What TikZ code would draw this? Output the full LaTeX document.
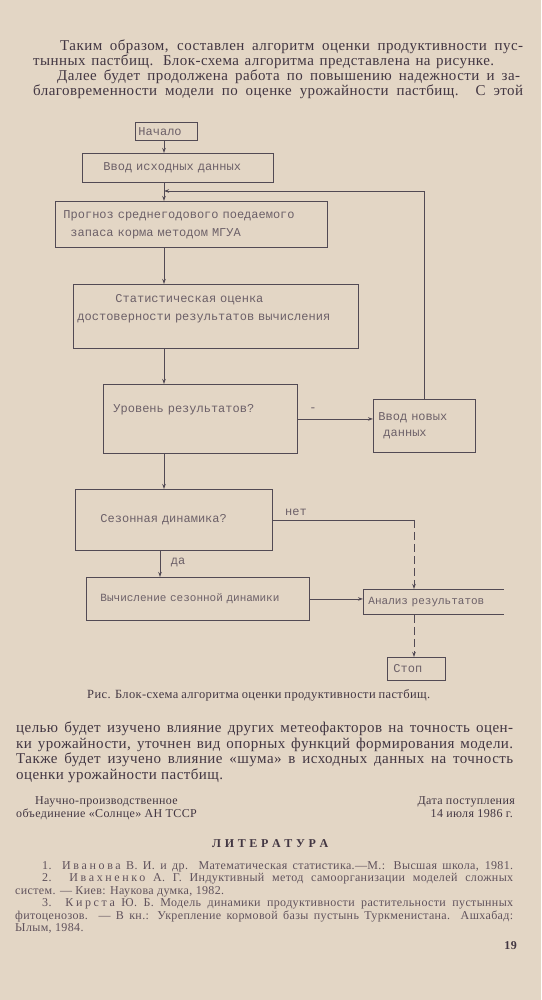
\documentclass[tikz,border=0pt]{standalone}
\usepackage{fontspec}
\setmainfont{Liberation Serif}[LetterSpace=3]
\newfontfamily\typewr{Liberation Mono}
\newfontfamily\sparse[LetterSpace=22]{Liberation Serif}
\usetikzlibrary{arrows.meta,positioning,calc}
\definecolor{paper}{RGB}{227,214,197}
\definecolor{ink}{RGB}{66,54,66}
\definecolor{refink}{RGB}{96,82,92}
\definecolor{typeink}{RGB}{108,96,104}
\definecolor{lineink}{RGB}{82,74,84}
\hfuzz=200pt
\tikzset{
  block/.style={draw=lineink, line width=0.9pt, rectangle, anchor=north west, align=left,
    text=typeink, font=\typewr\fontsize{12}{18}\selectfont},
  note/.style={text=typeink, font=\typewr\fontsize{12}{14}\selectfont, inner sep=0pt},
  flow/.style={draw=lineink, line width=0.9pt, -{Stealth[length=5pt,width=3.5pt]}},
  link/.style={draw=lineink, line width=0.9pt},
  dashlink/.style={flow, dash pattern=on 8pt off 4pt},
  txt/.style={inner sep=0pt, anchor=base west, text=ink, font=\fontsize{15}{16}\selectfont},
  smalltxt/.style={txt, font=\fontsize{12}{13}\selectfont},
  reftxt/.style={txt, text=refink, font=\fontsize{12}{12}\selectfont}
}

\begin{document}
\begin{tikzpicture}[x=1pt, y=-1pt]
\fill[paper] (0,0) rectangle (541,1000);
\useasboundingbox (0,0) rectangle (541,1000);

% text above the figure
\node[txt] (p1a) at (60,50.5) {\makebox[463pt][s]{Таким образом, составлен алгоритм оценки продуктивности пус-}};
\node[txt] (p1b) at (33,65.5) {\makebox[461pt][s]{тынных пастбищ. Блок-схема алгоритма представлена на рисунке.}};
\node[txt] (p1c) at (57,80.5) {\makebox[463pt][s]{Далее будет продолжена работа по повышению надежности и за-}};
\node[txt] (p1d) at (33,95.5) {\makebox[490pt][s]{благовременности модели по оценке урожайности пастбищ. С этой}};

% flowchart
\coordinate (spine) at (164,0);
\coordinate (merge) at (164,191);
\coordinate (drop) at (414,0);

\node[block, text width=56pt, inner xsep=3pt, minimum height=18pt] (start) at (135,122) {Начало};
\node[block, text width=149pt, inner xsep=21pt, minimum height=29pt] (input) at (82,153) {Ввод исходных данных};
\node[block, text width=256pt, inner xsep=8pt, minimum height=46pt] (forecast) at (55,201)
  {Прогноз среднегодового поедаемого\\\hspace*{7pt}запаса корма методом МГУА};
\node[block, text width=277pt, inner xsep=4pt, minimum height=64pt] (stat) at (73,284)
  {\hspace*{38pt}Статистическая оценка\\достоверности результатов вычисления\\\mbox{}};
\node[block, text width=174pt, inner xsep=10pt, minimum height=69pt] (level) at (103,384)
  {Уровень результатов?\\[2pt]\mbox{}};
\node[block, text width=92pt, inner xsep=5pt, minimum height=53pt] (newdata) at (373,399)
  {Ввод новых\\[-2pt]\hspace*{5pt}данных};
\node[block, text width=147pt, inner xsep=25pt, minimum height=61pt] (season) at (75,489) {Сезонная динамика?};
\node[block, text width=211pt, inner xsep=6pt, minimum height=43pt, font=\typewr\fontsize{11}{18}\selectfont] (calc) at (86,577)
  {\hspace*{8pt}Вычисление сезонной динамики};
\node[block, draw=none, text width=132pt, inner xsep=4pt, minimum height=25pt, font=\typewr\fontsize{11}{18}\selectfont] (analysis) at (363,589)
  {\hspace*{1pt}Анализ результатов};
\node[block, text width=46pt, inner xsep=6pt, minimum height=23pt] (stop) at (387,657) {Стоп};

\draw[link] (analysis.north east) -- (analysis.north west) -- (analysis.south west) -- (analysis.south east);

\node[note] (minus) at (313,410) {-};
\node[note] (no) at (296,512) {нет};
\node[note] (yes) at (178,562) {да};

\draw[flow] (start.south -| spine) -- (input.north -| spine);
\draw[flow] (input.south -| spine) -- (forecast.north -| spine);
\draw[flow] (newdata.north) |- (merge);
\draw[flow] (forecast.south -| spine) -- (stat.north -| spine);
\draw[flow] (stat.south -| spine) -- (level.north -| spine);
\draw[flow] (level.east) -- (level.east -| newdata.west);
\draw[flow] (level.south -| spine) -- (season.north -| spine);
\draw[flow] ([xshift=-4pt]season.south -| spine) -- ([xshift=-4pt]calc.north -| spine);
\draw[link] (season.east) -- (season.east -| drop);
\draw[dashlink] (season.east -| drop) -- (analysis.north -| drop);
\draw[flow] (calc.east) -- (calc.east -| analysis.west);
\draw[dashlink] (analysis.south -| drop) -- (stop.north -| drop);

\node[smalltxt, font=\fontsize{12.5}{13}\selectfont] (caption) at (87,698) {\makebox[343pt][s]{Рис. Блок-схема алгоритма оценки продуктивности пастбищ.}};

% text below the figure
\node[txt] (p2a) at (16,732.5) {\makebox[497pt][s]{целью будет изучено влияние других метеофакторов на точность оцен-}};
\node[txt] (p2b) at (16,748) {\makebox[497pt][s]{ки урожайности, уточнен вид опорных функций формирования модели.}};
\node[txt] (p2c) at (16,763.5) {\makebox[497pt][s]{Также будет изучено влияние «шума» в исходных данных на точность}};
\node[txt] (p2d) at (16,779) {оценки урожайности пастбищ.};

\node[smalltxt] (org1) at (35,804) {Научно-производственное};
\node[smalltxt] (org2) at (16,817) {объединение «Солнце» АН ТССР};
\node[smalltxt, anchor=base east] (date1) at (515,804) {Дата поступления};
\node[smalltxt, anchor=base east] (date2) at (513,817) {14 июля 1986 г.};

\node[smalltxt, font=\bfseries\fontsize{12}{13}\selectfont] (lit) at (212,847) {\makebox[116pt][s]{Л И Т Е Р А Т У Р А}};

\node[reftxt] (r1) at (42,869) {\makebox[471pt][s]{1. {\sparse Иванова} В. И. и др. Математическая статистика.—М.: Высшая школа, 1981.}};
\node[reftxt] (r2) at (42,881.5) {\makebox[471pt][s]{2. {\sparse Ивахненко} А. Г. Индуктивный метод самоорганизации моделей сложных}};
\node[reftxt] (r2b) at (15,894) {систем. — Киев: Наукова думка, 1982.};
\node[reftxt] (r3) at (42,906.5) {\makebox[471pt][s]{3. {\sparse Кирста} Ю. Б. Модель динамики продуктивности растительности пустынных}};
\node[reftxt] (r3b) at (15,919) {\makebox[498pt][s]{фитоценозов. — В кн.: Укрепление кормовой базы пустынь Туркменистана. Ашхабад:}};
\node[reftxt] (r3c) at (15,931.5) {Ылым, 1984.};

\node[smalltxt, anchor=base east, font=\bfseries\fontsize{12}{13}\selectfont] (page) at (517,949) {19};
\end{tikzpicture}
\end{document}
